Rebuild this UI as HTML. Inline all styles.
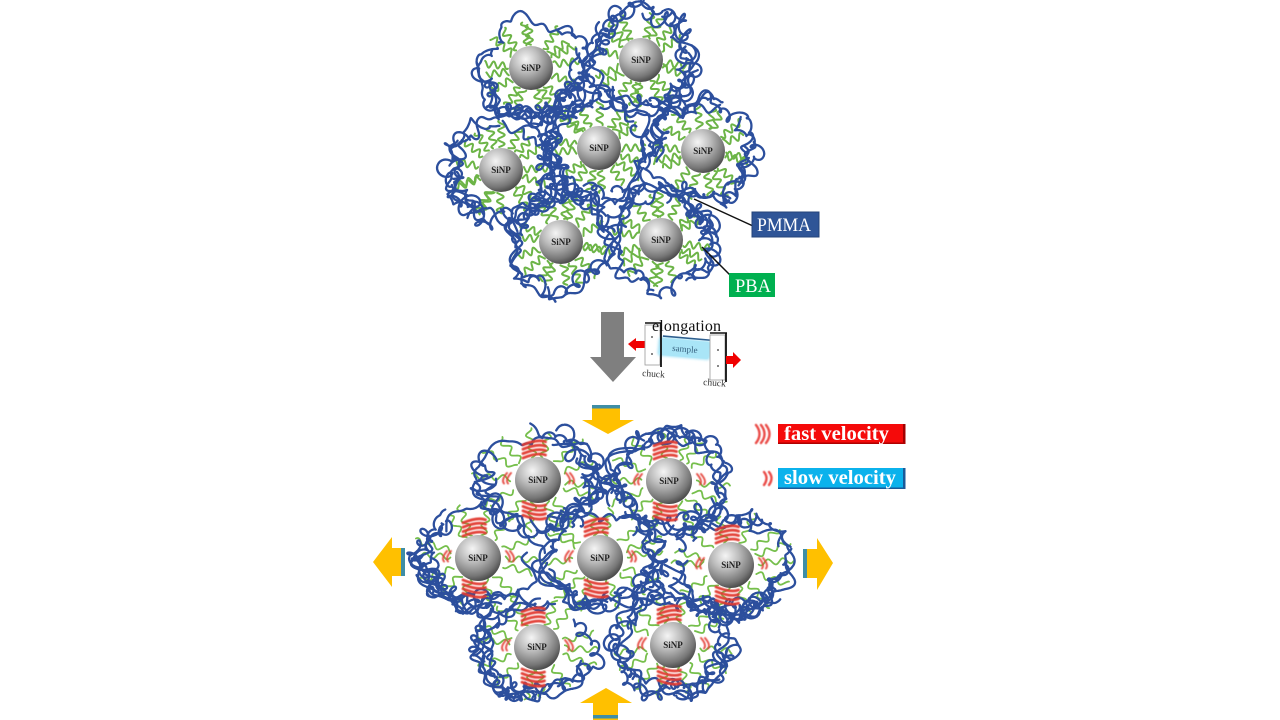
<!DOCTYPE html>
<html><head><meta charset="utf-8"><style>
html,body{margin:0;padding:0;background:#fff;}
svg{display:block;}
text{font-family:"Liberation Serif",serif;}
</style></head><body>
<svg id="s" xmlns="http://www.w3.org/2000/svg" width="1280" height="720" viewBox="0 0 1280 720">
<defs>
<radialGradient id="sp" cx="0.38" cy="0.3" r="0.72">
<stop offset="0" stop-color="#f5f5f5"/>
<stop offset="0.4" stop-color="#bdbdbd"/>
<stop offset="0.82" stop-color="#767676"/>
<stop offset="1" stop-color="#4a4a4a"/>
</radialGradient>
<filter id="bl" x="-20%" y="-20%" width="140%" height="140%"><feGaussianBlur stdDeviation="0.45"/></filter>
<filter id="gl" x="-20%" y="-40%" width="140%" height="180%"><feGaussianBlur stdDeviation="1.2"/></filter>
</defs>
<rect width="1280" height="720" fill="#fff"/>
<g id="green"></g>
<g id="blue"></g>
<g id="red" filter="url(#bl)"></g>

<!-- top spheres -->
<g>
<circle cx="531" cy="68" r="22" fill="url(#sp)"/><text x="531" y="71" font-size="9" font-weight="bold" text-anchor="middle" fill="#222">SiNP</text>
<circle cx="641" cy="60" r="22" fill="url(#sp)"/><text x="641" y="63" font-size="9" font-weight="bold" text-anchor="middle" fill="#222">SiNP</text>
<circle cx="599" cy="148" r="22" fill="url(#sp)"/><text x="599" y="151" font-size="9" font-weight="bold" text-anchor="middle" fill="#222">SiNP</text>
<circle cx="501" cy="170" r="22" fill="url(#sp)"/><text x="501" y="173" font-size="9" font-weight="bold" text-anchor="middle" fill="#222">SiNP</text>
<circle cx="703" cy="151" r="22" fill="url(#sp)"/><text x="703" y="154" font-size="9" font-weight="bold" text-anchor="middle" fill="#222">SiNP</text>
<circle cx="561" cy="242" r="22" fill="url(#sp)"/><text x="561" y="245" font-size="9" font-weight="bold" text-anchor="middle" fill="#222">SiNP</text>
<circle cx="661" cy="240" r="22" fill="url(#sp)"/><text x="661" y="243" font-size="9" font-weight="bold" text-anchor="middle" fill="#222">SiNP</text>
</g>

<!-- bottom spheres -->
<g>
<circle cx="538" cy="480" r="23" fill="url(#sp)"/><text x="538" y="483" font-size="9" font-weight="bold" text-anchor="middle" fill="#222">SiNP</text>
<circle cx="669" cy="481" r="23" fill="url(#sp)"/><text x="669" y="484" font-size="9" font-weight="bold" text-anchor="middle" fill="#222">SiNP</text>
<circle cx="478" cy="558" r="23" fill="url(#sp)"/><text x="478" y="561" font-size="9" font-weight="bold" text-anchor="middle" fill="#222">SiNP</text>
<circle cx="600" cy="558" r="23" fill="url(#sp)"/><text x="600" y="561" font-size="9" font-weight="bold" text-anchor="middle" fill="#222">SiNP</text>
<circle cx="731" cy="565" r="23" fill="url(#sp)"/><text x="731" y="568" font-size="9" font-weight="bold" text-anchor="middle" fill="#222">SiNP</text>
<circle cx="537" cy="647" r="23" fill="url(#sp)"/><text x="537" y="650" font-size="9" font-weight="bold" text-anchor="middle" fill="#222">SiNP</text>
<circle cx="673" cy="645" r="23" fill="url(#sp)"/><text x="673" y="648" font-size="9" font-weight="bold" text-anchor="middle" fill="#222">SiNP</text>
</g>

<!-- PMMA / PBA labels -->
<line x1="694" y1="199" x2="753" y2="226" stroke="#111" stroke-width="1.5"/>
<rect x="752" y="212" width="67" height="25" fill="#2f5597" stroke="#24447a" stroke-width="1"/>
<text x="757" y="231" font-size="19" fill="#fff" textLength="54" lengthAdjust="spacingAndGlyphs">PMMA</text>
<line x1="702" y1="247" x2="731" y2="276" stroke="#111" stroke-width="1.5"/>
<rect x="729" y="273" width="46" height="24" fill="#00b050"/>
<text x="735" y="292" font-size="19" fill="#fff" textLength="36" lengthAdjust="spacingAndGlyphs">PBA</text>

<!-- grey down arrow -->
<polygon points="601,312 624,312 624,357 636,357 613,382 590,357 601,357" fill="#7f7f7f"/>

<!-- elongation diagram -->
<g>
<polygon points="628,344 636,338 636,341 645,341 645,348 636,348 636,351" fill="#f00000"/>
<rect x="645" y="325" width="15" height="40" fill="#fff" stroke="#9a9a9a" stroke-width="0.8"/>
<circle cx="652" cy="337" r="0.9" fill="#333"/><circle cx="652" cy="354" r="0.9" fill="#333"/>
<g transform="rotate(5 685 348)">
<rect x="658" y="339" width="53" height="19" rx="3" fill="#9fe1f6" filter="url(#gl)" opacity="0.9"/>
<rect x="660" y="340" width="49" height="17" rx="2" fill="#a9e5f7"/>
<line x1="662" y1="338" x2="709" y2="338" stroke="#2e5e8e" stroke-width="1.6"/>
<text x="685" y="352" font-size="9" fill="#35607e" text-anchor="middle">sample</text>
</g>
<line x1="661" y1="323" x2="661" y2="367" stroke="#111" stroke-width="1.8"/>
<line x1="645" y1="323" x2="662" y2="323" stroke="#111" stroke-width="1.5"/>
<rect x="710" y="335" width="15" height="45" fill="#fff" stroke="#9a9a9a" stroke-width="0.8"/>
<circle cx="718" cy="350" r="0.9" fill="#333"/><circle cx="718" cy="366" r="0.9" fill="#333"/>
<line x1="726" y1="333" x2="726" y2="382" stroke="#111" stroke-width="1.8"/>
<line x1="710" y1="333" x2="727" y2="333" stroke="#111" stroke-width="1.5"/>
<polygon points="741,360 733,352 733,356 726,356 726,364 733,364 733,368" fill="#f00000"/>
<text x="652" y="331" font-size="16" fill="#111" textLength="69">elongation</text>
<text x="642" y="376" font-size="9.5" fill="#333" transform="rotate(4 642 376)">chuck</text>
<text x="703" y="385" font-size="9.5" fill="#333" transform="rotate(4 703 385)">chuck</text>
</g>

<!-- orange arrows -->
<g>
<polygon points="592,405 620,405 620,420 634,420 608,434 582,420 592,420" fill="#ffc000"/>
<rect x="592" y="405" width="28" height="3.5" fill="#3f8ea6"/>
<polygon points="606,688 632,703 618,703 618,720 593,720 593,703 580,703" fill="#ffc000"/>
<rect x="593" y="715" width="25" height="3.5" fill="#3f8ea6"/>
<polygon points="373,562 392,537 392,548 405,548 405,576 392,576 392,587" fill="#ffc000"/>
<rect x="401" y="548" width="4" height="28" fill="#3f8ea6"/>
<polygon points="833,563 817,538 817,549 803,549 803,578 817,578 817,590" fill="#ffc000"/>
<rect x="803" y="549" width="4" height="29" fill="#3f8ea6"/>
</g>

<!-- legend -->
<g filter="url(#bl)" fill="none" stroke="#ea4d4a" stroke-width="2.4" stroke-linecap="round">
<path d="M756,425 Q763,434 756,443"/><path d="M761,425 Q768,434 761,443"/><path d="M766,425 Q773,434 766,443"/>
<path d="M764,472 Q769,478 764,485"/><path d="M769,472 Q774,478 769,485"/>
</g>
<rect x="778" y="424" width="127" height="20" fill="#f50a0a"/>
<rect x="903" y="424" width="2.5" height="20" fill="#a30000"/>
<rect x="778" y="442.5" width="127" height="1.5" fill="#b00000"/>
<text x="784" y="440" font-size="20" font-weight="bold" fill="#fff" textLength="105" lengthAdjust="spacingAndGlyphs">fast velocity</text>
<rect x="778" y="468" width="127" height="21" fill="#0bb2ec"/>
<rect x="903" y="468" width="2.5" height="21" fill="#1a5a99"/>
<rect x="778" y="487.5" width="127" height="1.5" fill="#1a5a99"/>
<text x="784" y="484" font-size="20" font-weight="bold" fill="#fff" textLength="112" lengthAdjust="spacingAndGlyphs">slow velocity</text>
</svg>
<script>
(function(){
var NS='http://www.w3.org/2000/svg';
var seed=987654321;
function R(){seed=(seed*1664525+1013904223)>>>0;return seed/4294967296;}
function P(g,pts,col,w,op){
  if(pts.length<3)return;
  var d='M'+pts[0][0].toFixed(1)+' '+pts[0][1].toFixed(1);
  for(var i=1;i<pts.length-1;i++){
    var mx=(pts[i][0]+pts[i+1][0])/2,my=(pts[i][1]+pts[i+1][1])/2;
    d+='Q'+pts[i][0].toFixed(1)+' '+pts[i][1].toFixed(1)+' '+mx.toFixed(1)+' '+my.toFixed(1);
  }
  var e=document.createElementNS(NS,'path');
  e.setAttribute('d',d);e.setAttribute('stroke',col);e.setAttribute('stroke-width',w);
  e.setAttribute('fill','none');e.setAttribute('stroke-linecap','round');e.setAttribute('stroke-linejoin','round');
  if(op)e.setAttribute('opacity',op);
  g.appendChild(e);
}
function ring(g,cx,cy,R0,sx,sy,n,col,w,lmax){
  for(var i=0;i<n;i++){
    var a0=R()*6.2832,span=1.3+R()*1.3,dir=R()<.5?1:-1;
    var p1=R()*6.28,p2=R()*6.28,f1=1.5+R()*3,f2=5+R()*6,lp=R()*6.28,lr=1.5+R()*lmax,pl=R()*6.28;
    var L=R0*span,N=Math.floor(L/1.5),pts=[];
    var om=0.38+R()*0.15;
    for(var k=0;k<=N;k++){
      var t=k/N,th=a0+dir*span*t,s=k*1.5;
      var rb=R0*(0.83+0.12*Math.sin(f1*t*3.14+p1)+0.06*Math.sin(f2*t*3.14+p2));
      var l=lr*(0.55+0.6*Math.sin(s/22+pl));
      if(l<0)l=0;
      pts.push([cx+rb*Math.cos(th)*sx+l*Math.cos(s*om+lp),cy+rb*Math.sin(th)*sy+l*Math.sin(s*om+lp)]);
    }
    P(g,pts,col,w);
  }
}
function radial(g,cx,cy,n,r0,r1,amp,wl,col,w,sx,sy){
  for(var j=0;j<n;j++){
    var a=j*6.2832/n+(R()-.5)*0.35;
    var re=r1+(R()-.5)*8,ph=R()*6.28;
    var ca=Math.cos(a),sa=Math.sin(a),pts=[];
    for(var r=r0;r<=re;r+=1.5){
      var o=amp*Math.sin((r-r0)/wl*6.2832+ph);
      pts.push([cx+(ca*r-sa*o)*sx,cy+(sa*r+ca*o)*sy]);
    }
    P(g,pts,col,w);
  }
}
var G=document.getElementById('green'),B=document.getElementById('blue'),Rd=document.getElementById('red');
var top=[[531,68],[641,60],[599,148],[501,170],[703,151],[561,242],[661,240]];
var bot=[[538,480],[669,481],[478,558],[600,558],[731,565],[537,647],[673,645]];
top.forEach(function(c){
  radial(G,c[0],c[1],17,23,48,3.8,9,'#6cb447',2,1,1);
});
top.forEach(function(c){
  ring(B,c[0],c[1],59,1,1,10,'#2c4f9d',2.3,4);
});
bot.forEach(function(c){
  radial(G,c[0],c[1],14,24,56,3.2,13,'#76bf4c',1.8,1.15,0.95);
});
bot.forEach(function(c){
  ring(B,c[0],c[1],60,1.12,0.93,11,'#2c4f9d',2.3,4.5);
});
bot.forEach(function(c){
  var x=c[0],y=c[1];
  for(var i=0;i<4;i++){
    var yo=25+i*4.4;
    P(Rd,[[x-15,y-yo+3],[x,y-yo-3],[x+15,y-yo+3]],'#e23a2e',2.8,0.95);
    P(Rd,[[x-15,y+yo-3],[x,y+yo+3],[x+15,y+yo-3]],'#e23a2e',2.8,0.95);
  }
  for(var k=0;k<2;k++){
    var lx=x-34+k*4;
    P(Rd,[[lx+3,y-7],[lx-3,y],[lx+3,y+7]],'#e4443a',2,0.9);
    var rx=x+31+k*4;
    P(Rd,[[rx-3,y-7],[rx+3,y],[rx-3,y+7]],'#e4443a',2,0.9);
  }
});
})();
</script>
</body></html>
